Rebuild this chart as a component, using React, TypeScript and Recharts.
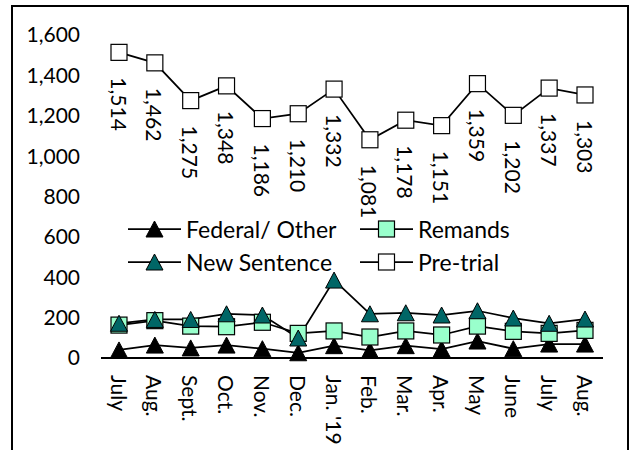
import React from 'react';
import { LineChart, Line, XAxis, YAxis, Legend, LabelList } from 'recharts';

// monthly population by status, July '18 - Aug. '19
const months = ['July', 'Aug.', 'Sept.', 'Oct.', 'Nov.', 'Dec.', "Jan. '19", 'Feb.', 'Mar.', 'Apr.', 'May', 'June', 'July', 'Aug.'];
const federalOther = [40, 64, 50, 64, 46, 26, 61, 38, 61, 44, 84, 46, 69, 69];
const remands = [163, 185, 158, 155, 177, 122, 134, 104, 134, 114, 158, 132, 122, 137];
const newSentence = [172, 191, 191, 219, 213, 99, 386, 219, 224, 213, 234, 198, 172, 193];
const preTrial = [1514, 1462, 1275, 1348, 1186, 1210, 1332, 1081, 1178, 1151, 1359, 1202, 1337, 1303];
const yTicks = [0, 200, 400, 600, 800, 1000, 1200, 1400, 1600];

const FONT = 'Lato, "Open Sans", sans-serif';

const data = months.map((month, i) => ({
  month,
  federal: federalOther[i],
  remands: remands[i],
  newSentence: newSentence[i],
  preTrial: preTrial[i],
}));

type Shape = 'triangle' | 'square';

interface SeriesConfig {
  key: string;
  name: string;
  shape: Shape;
  fill: string;
}

const series: SeriesConfig[] = [
  { key: 'federal', name: 'Federal/ Other', shape: 'triangle', fill: '#000000' },
  { key: 'remands', name: 'Remands', shape: 'square', fill: '#99FFCC' },
  { key: 'newSentence', name: 'New Sentence', shape: 'triangle', fill: '#006666' },
  { key: 'preTrial', name: 'Pre-trial', shape: 'square', fill: '#FFFFFF' },
];

function Marker({ cx, cy, shape, fill }: { cx: number; cy: number; shape: Shape; fill: string }) {
  if (shape === 'triangle') {
    return (
      <path
        d={`M${cx},${cy - 8}L${cx + 8.5},${cy + 8}L${cx - 8.5},${cy + 8}Z`}
        fill={fill}
        stroke="#000"
        strokeWidth={1}
      />
    );
  }
  return <rect x={cx - 8} y={cy - 8} width={16} height={16} fill={fill} stroke="#000" strokeWidth={1.2} />;
}

const makeDot = (shape: Shape, fill: string) => (props: any) => {
  const { cx, cy, index } = props;
  if (cx == null || cy == null) return <g key={index} />;
  return (
    <g key={index}>
      <Marker cx={cx} cy={cy} shape={shape} fill={fill} />
    </g>
  );
};

const MonthTick = (props: any) => {
  const { x, y, payload } = props;
  const ty = y + 15;
  return (
    <text
      x={x}
      y={ty}
      transform={`rotate(90, ${x}, ${ty})`}
      textAnchor="start"
      dominantBaseline="central"
      fontFamily={FONT}
      fontSize={21}
      fill="#000"
    >
      {payload.value}
    </text>
  );
};

const renderPreTrialLabel = (props: any) => {
  const { x, y, value, index } = props;
  const ly = Number(y) + 25;
  return (
    <text
      key={index}
      x={x}
      y={ly}
      transform={`rotate(90, ${x}, ${ly})`}
      textAnchor="start"
      dominantBaseline="central"
      fontFamily={FONT}
      fontSize={21}
      fill="#000"
    >
      {Number(value).toLocaleString('en-US')}
    </text>
  );
};

// 2x2 legend sitting inside the plot area
const renderLegend = () => (
  <div style={{ position: 'relative', width: 632, height: 0 }}>
    {series.map((s, i) => {
      const left = i % 2 === 0 ? 128 : 360;
      const top = i < 2 ? 229 : 262;
      return (
        <div
          key={s.key}
          style={{
            position: 'absolute',
            left,
            top: top - 15,
            height: 30,
            display: 'flex',
            alignItems: 'center',
            whiteSpace: 'nowrap',
          }}
        >
          <svg width={53} height={30} style={{ display: 'block' }}>
            <line x1={0} y1={15} x2={53} y2={15} stroke="#000" strokeWidth={1.75} />
            <Marker cx={26.5} cy={15} shape={s.shape} fill={s.fill} />
          </svg>
          <span style={{ marginLeft: 5, fontFamily: FONT, fontSize: 23, color: '#000', lineHeight: '30px' }}>
            {s.name}
          </span>
        </div>
      );
    })}
  </div>
);

export default function App() {
  return (
    <div style={{ position: 'absolute', left: 0, top: 0, width: 632, height: 450, overflow: 'hidden', background: '#fff' }}>
      <div
        style={{
          position: 'absolute',
          left: 11,
          top: 5,
          width: 618,
          height: 480,
          border: '2px solid #000',
          boxSizing: 'border-box',
        }}
      />
      <div style={{ position: 'absolute', left: 0, top: 0 }}>
        <LineChart width={632} height={450} data={data} margin={{ top: 35, right: 29, left: 0, bottom: 0 }}>
          <XAxis
            dataKey="month"
            interval={0}
            tickLine={false}
            tickSize={0}
            height={92}
            padding={{ left: 18, right: 18 }}
            axisLine={{ stroke: '#000', strokeWidth: 2 }}
            tick={<MonthTick />}
          />
          <YAxis
            domain={[0, 1600]}
            ticks={yTicks}
            width={101}
            axisLine={false}
            tickLine={false}
            tickSize={0}
            tickMargin={21}
            tickFormatter={(v: number) => v.toLocaleString('en-US')}
            tick={{ fill: '#000', fontSize: 21, fontFamily: FONT }}
          />
          <Legend content={renderLegend} wrapperStyle={{ left: 0, top: 0, width: 632, height: 0 }} />
          {series.map((s) => (
            <Line
              key={s.key}
              dataKey={s.key}
              name={s.name}
              type="linear"
              stroke="#000"
              strokeWidth={1.75}
              dot={makeDot(s.shape, s.fill)}
              activeDot={false}
              isAnimationActive={false}
            >
              {s.key === 'preTrial' && <LabelList dataKey="preTrial" content={renderPreTrialLabel} />}
            </Line>
          ))}
        </LineChart>
      </div>
    </div>
  );
}
